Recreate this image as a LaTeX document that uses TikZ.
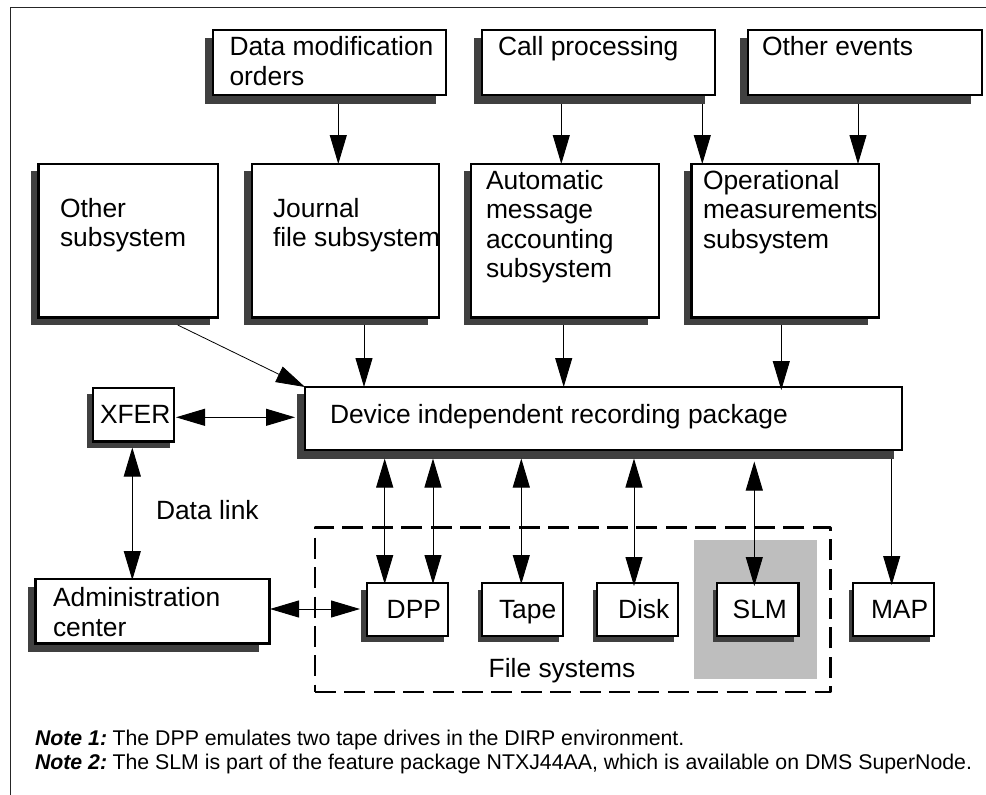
\documentclass[tikz,border=0pt]{standalone}
\usepackage{fontspec}
\setmainfont{Liberation Sans}
\usetikzlibrary{arrows.meta}
\tikzset{
  x=1pt,y=-1pt,
  shade box/.style={fill=shadowgray,draw=none,inner sep=0pt,outer sep=0pt},
  main box/.style={fill=white,draw=black,line width=2.6pt,inner sep=0pt,outer sep=0pt},
  label text/.style={inner sep=0pt,outer sep=0pt,anchor=base west,align=left,font=\fontsize{26.4}{29.6}\selectfont},
  note text/.style={inner sep=0pt,outer sep=0pt,anchor=base west,font=\fontsize{21.3}{24}\selectfont},
  single/.style={line width=1pt,-{Triangle[length=29pt,width=17pt]}},
  double/.style={line width=1pt,{Triangle[length=29pt,width=17pt]}-{Triangle[length=29pt,width=17pt]}},
}
\definecolor{shadowgray}{HTML}{404040}
\definecolor{panelgray}{HTML}{BEBEBE}
% name, left, top, right, bottom, shadow left, shadow top, shadow right, shadow bottom
\newcommand{\boxpair}[9]{%
  \node[shade box,minimum width=#8-#6,minimum height=#9-#7] (s#1) at ({(#6+#8)/2},{(#7+#9)/2}) {};
  \node[main box,minimum width=#4-#2,minimum height=#5-#3] (#1) at ({(#2+#4)/2},{(#3+#5)/2}) {};
}
\newcommand{\vconn}[4]{\draw[#1] (#2 -| #3,0) -- (#4 -| #3,0);}
\begin{document}
\begin{tikzpicture}
\useasboundingbox (0,0) rectangle (986,795);
\fill[white] (0,0) rectangle (986,795);
\draw[line width=1pt,draw=black!85] (986,7) -- (10.5,7) -- (10.5,795);
% file systems panel
\node[fill=panelgray,inner sep=0pt,minimum width=123,minimum height=138.7] (panel) at (755.5,609.35) {};
\node[draw=black,line width=2.4pt,line join=round,dash pattern=on 21pt off 8.4pt,inner sep=0pt,outer sep=0pt,minimum width=515.3,minimum height=164.4] (files) at (572.65,609.5) {};
% boxes
\boxpair{data}{213}{30}{446}{95}{205}{38}{436}{104}
\boxpair{call}{482}{30}{715}{95}{474}{38}{705}{104}
\boxpair{events}{748}{30}{982}{95}{740}{38}{971}{104}
\boxpair{other}{38.5}{164}{218}{317.5}{31}{171}{210}{325}
\boxpair{journal}{252}{164}{439}{317.5}{244}{171}{428}{325}
\boxpair{ama}{471}{164}{659}{317.5}{464}{171}{648}{325}
\boxpair{om}{691.5}{164}{879}{317.5}{684}{171}{868}{325}
\boxpair{dirp}{305}{387}{902}{450}{297}{394}{894}{458.5}
\boxpair{xfer}{93}{388}{174}{441.5}{87}{394}{170}{448}
\boxpair{admin}{35.5}{579}{269.5}{643.5}{28}{587}{259}{652}
\boxpair{dpp}{367}{583}{448}{636}{361}{590}{444}{642}
\boxpair{tape}{482}{583}{563}{636}{478}{590}{559}{642}
\boxpair{disk}{597}{583}{678}{636}{593}{590}{674}{642}
\boxpair{slm}{717}{583}{798.5}{636}{713}{590}{794}{642}
\boxpair{map}{853}{583}{934}{636}{849}{590}{930}{642}
% connectors
\vconn{single}{sdata.south}{338.3}{journal.north}
\vconn{single}{scall.south}{561.3}{ama.north}
\vconn{single}{scall.south}{702.3}{om.north}
\vconn{single}{sevents.south}{858}{om.north}
\draw[single,line width=0.8pt] (sother.south -| 177.7,0) -- (dirp.north west);
\vconn{single}{sjournal.south}{364}{dirp.north}
\vconn{single}{sama.south}{563.7}{dirp.north}
\draw[single] (som.south -| 781.3,0) -- ([yshift=-3pt]dirp.north -| 781.3,0);
\draw[double] ([xshift=2pt]xfer.east |- 0,417.3) -- ([xshift=-2pt]sdirp.west |- 0,417.3);
\draw[double] ([yshift=0.5pt]sxfer.south -| 132.3,0) -- ([yshift=-1pt]admin.north -| 132.3,0);
\draw[double] ([xshift=0.5pt]admin.east |- 0,609) -- ([xshift=-1pt]sdpp.west |- 0,609);
\draw[double] (sdirp.south -| 384.7,0) -- ([yshift=-1pt]dpp.north -| 384.7,0);
\draw[double] (sdirp.south -| 433,0) -- ([yshift=-1pt]dpp.north -| 433,0);
\draw[double] (sdirp.south -| 521.3,0) -- ([yshift=-1pt]tape.north -| 521.3,0);
\draw[double] (sdirp.south -| 634,0) -- ([yshift=-3pt]disk.north -| 634,0);
\draw[double] ([yshift=-3pt]sdirp.south -| 754.3,0) -- ([yshift=-3pt]slm.north -| 754.3,0);
\draw[single] (sdirp.south -| 891.7,0) -- ([yshift=-2pt]map.north -| 891.7,0);
% labels
\node[label text] (t1) at (229.5,55) {Data modification};
\node[label text] (t1b) at (229.5,85) {orders};
\node[label text] (t2) at (498,55) {Call processing};
\node[label text] (t3) at (762,55) {Other events};
\node[label text] (t4) at (60,217) {Other};
\node[label text] (t4b) at (60,246) {subsystem};
\node[label text] (t5) at (273,217) {Journal};
\node[label text] (t5b) at (273,246) {file subsystem};
\node[label text] (t6) at (486,189) {Automatic};
\node[label text] (t6b) at (486,218) {message};
\node[label text] (t6c) at (486,248) {accounting};
\node[label text] (t6d) at (486,277) {subsystem};
\node[label text] (t7) at (703,189) {Operational};
\node[label text] (t7b) at (703,218) {measurements};
\node[label text] (t7c) at (703,248) {subsystem};
\node[label text] (t8) at (330,423) {Device independent recording package};
\node[label text] (t9) at (100,423) {XFER};
\node[label text] (t10) at (156,519) {Data link};
\node[label text] (t11) at (53,606) {Administration};
\node[label text] (t11b) at (53,636) {center};
\node[label text] (t12) at (386.7,618) {DPP};
\node[label text] (t13) at (499,618) {Tape};
\node[label text] (t14) at (618,618) {Disk};
\node[label text] (t15) at (732.7,618) {SLM};
\node[label text] (t16) at (871,618) {MAP};
\node[label text] (t17) at (488.7,677.7) {File systems};
\node[note text] (n1) at (35,745) {{\bfseries\itshape Note 1:}\hspace{-2.5pt} The DPP emulates two tape drives in the DIRP environment.};
\node[note text] (n2) at (35,769) {{\bfseries\itshape Note 2:}\hspace{-2.5pt} The SLM is part of the feature package NTXJ44AA, which is available on DMS SuperNode.};
\end{tikzpicture}
\end{document}
